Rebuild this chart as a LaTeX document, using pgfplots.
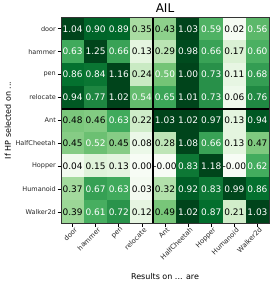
\documentclass[border=0pt]{standalone}
\usepackage{pgfplots}
\pgfplotsset{compat=1.18}
\usepackage{pgfplotstable}
\usepackage{fontspec}
\setmainfont{DejaVu Sans}

\pgfplotstableread{
x y v
0 0 1.04
1 0 0.90
2 0 0.89
3 0 0.35
4 0 0.43
5 0 1.03
6 0 0.59
7 0 0.02
8 0 0.56
0 1 0.63
1 1 1.25
2 1 0.66
3 1 0.13
4 1 0.29
5 1 0.98
6 1 0.66
7 1 0.17
8 1 0.60
0 2 0.86
1 2 0.84
2 2 1.16
3 2 0.24
4 2 0.50
5 2 1.00
6 2 0.73
7 2 0.11
8 2 0.68
0 3 0.94
1 3 0.77
2 3 1.02
3 3 0.54
4 3 0.65
5 3 1.01
6 3 0.73
7 3 0.06
8 3 0.76
0 4 0.48
1 4 0.46
2 4 0.63
3 4 0.22
4 4 1.03
5 4 1.02
6 4 0.97
7 4 0.13
8 4 0.94
0 5 0.45
1 5 0.52
2 5 0.45
3 5 0.08
4 5 0.28
5 5 1.08
6 5 0.66
7 5 0.13
8 5 0.47
0 6 0.04
1 6 0.15
2 6 0.13
3 6 0.00
4 6 -0.00
5 6 0.83
6 6 1.18
7 6 -0.00
8 6 0.62
0 7 0.37
1 7 0.67
2 7 0.63
3 7 0.03
4 7 0.32
5 7 0.92
6 7 0.83
7 7 0.99
8 7 0.86
0 8 0.39
1 8 0.61
2 8 0.72
3 8 0.12
4 8 0.49
5 8 1.02
6 8 0.87
7 8 0.21
8 8 1.03
}\datatable

\pgfplotsset{
  colormap={greens}{
    rgb255=(247,252,245) rgb255=(229,245,224) rgb255=(199,233,192)
    rgb255=(161,217,155) rgb255=(116,196,118) rgb255=(65,171,93)
    rgb255=(35,139,69) rgb255=(0,109,44) rgb255=(0,68,27)
  }
}

\begin{document}
\begin{tikzpicture}
\useasboundingbox (0,0) rectangle (274pt,286pt);
\begin{axis}[
  at={(61pt,62.7pt)}, anchor=south west,
  scale only axis, width=208pt, height=206pt,
  xmin=-0.5, xmax=8.5, ymin=-0.5, ymax=8.5,
  y dir=reverse,
  colormap name=greens,
  xtick={0,...,8}, ytick={0,...,8},
  xticklabels={door,hammer,pen,relocate,Ant,HalfCheetah,Hopper,Humanoid,Walker2d},
  yticklabels={door,hammer,pen,relocate,Ant,HalfCheetah,Hopper,Humanoid,Walker2d},
  tick align=outside, xtick pos=bottom, ytick pos=left,
  major tick length=3.5pt,
  tick style={black, line width=0.6pt},
  ticklabel style={font=\fontsize{6.5}{7}\selectfont, text=black!85},
  xticklabel style={rotate=45, anchor=north east, inner sep=1pt, xshift=2pt, font=\fontsize{6.8}{7}\selectfont},
  yticklabel style={inner sep=1.5pt},
  axis line style={line width=0.6pt, black!80},
  axis on top,
  title={AIL},
  title style={font=\fontsize{12}{14}\selectfont, at={(axis description cs:0.5,1.0143)}, anchor=center, yshift=0pt},
  xlabel={Results on ... are},
  xlabel style={font=\fontsize{8}{10}\selectfont, at={(axis description cs:0.5,-0.2605)}, anchor=center},
  ylabel={If HP selected on ...},
  ylabel style={font=\fontsize{8}{10}\selectfont, at={(axis description cs:-0.255,0.5)}, anchor=center, rotate=0},
]
\addplot[matrix plot*, mesh/cols=9, point meta=explicit, point meta min=0, point meta max=1, shader=flat corner]
  table[x=x, y=y, meta=v] {\datatable};
\addplot[draw=none, mark=none, point meta=explicit symbolic,
  nodes near coords={\pgfmathparse{\pgfplotspointmeta>=0.5}\ifdim\pgfmathresult pt>0.5pt\color{white}\else\color{black}\fi\pgfplotspointmeta},
  nodes near coords align=center,
  every node near coord/.append style={font=\fontsize{9}{10}\selectfont, anchor=center, inner sep=0pt},
] table[x=x, y=y, meta=v] {\datatable};
\draw[black, line width=2pt] (axis cs:3.5,-0.5) -- (axis cs:3.5,8.5);
\draw[black, line width=2pt] (axis cs:-0.5,3.5) -- (axis cs:8.5,3.5);
\end{axis}
\end{tikzpicture}
\end{document}
